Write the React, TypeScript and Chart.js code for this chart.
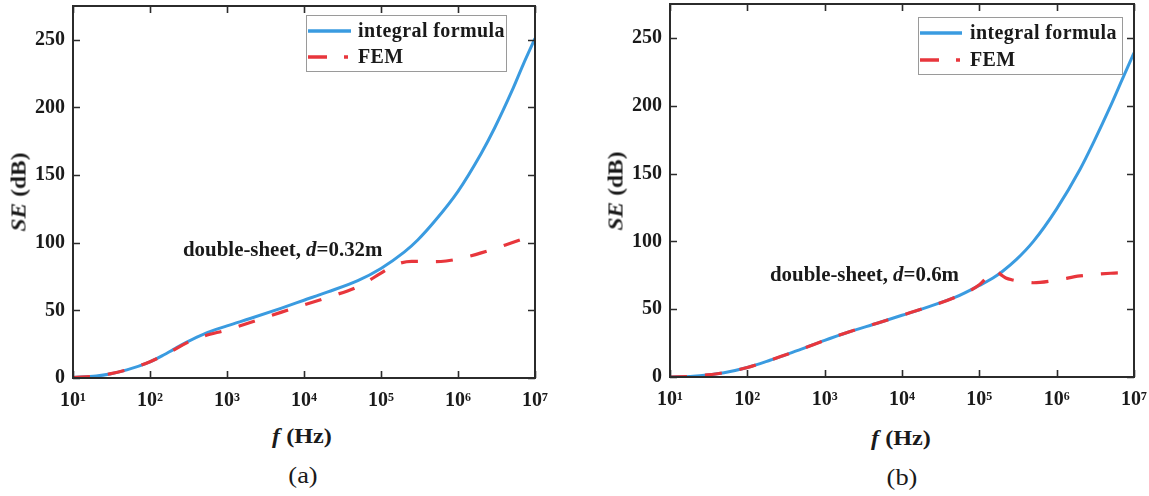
import React, { useEffect, useRef } from 'react';
import { Chart, registerables } from 'chart.js';

Chart.register(...registerables);

// ---------- data ----------
const freqA = [10, 20, 30, 50, 100, 150, 200, 300, 500, 1e3, 2e3, 5e3, 1e4, 2e4, 5e4, 1e5, 2e5, 3e5, 5e5, 1e6, 2e6, 3e6, 5e6, 7e6, 1e7];
const integralA = [0.3, 1.5, 3, 6, 12, 17, 21, 26.5, 32.5, 38.5, 44, 51.5, 57.5, 63.5, 72, 81, 93, 102, 116, 138, 166, 185, 212, 231.5, 251];
const freqFemA = [10, 20, 30, 50, 100, 150, 200, 300, 500, 1e3, 2e3, 5e3, 1e4, 2e4, 5e4, 1e5, 1.4e5, 1.8e5, 2.5e5, 3.5e5, 5e5, 7e5, 1e6, 2e6, 5e6, 1e7];
const femA = [0.3, 1.5, 3, 6, 12, 16.8, 20.5, 26, 31, 35.5, 41, 48.5, 54, 59.5, 67.5, 77.5, 82.5, 85, 86.2, 86.2, 86, 86.5, 88, 92.5, 100, 106];

const freqB = [10, 20, 30, 50, 100, 200, 300, 500, 1e3, 2e3, 5e3, 1e4, 2e4, 5e4, 1e5, 1.5e5, 2e5, 3e5, 5e5, 1e6, 2e6, 3e6, 5e6, 7e6, 1e7];
const integralB = [0, 0.6, 1.5, 3.2, 7, 12.5, 16, 20.5, 27, 33, 40, 45.5, 51, 59, 67.5, 73, 78, 86.5, 100, 124, 153, 173, 200, 219, 239];
const freqFemB = [10, 20, 30, 50, 100, 200, 300, 500, 1e3, 2e3, 5e3, 1e4, 2e4, 5e4, 1e5, 1.2e5, 1.35e5, 1.5e5, 1.7e5, 1.9e5, 2.2e5, 2.7e5, 3.5e5, 5e5, 1e6, 2e6, 5e6, 1e7];
const femB = [0, 0.6, 1.5, 3.2, 7, 12.5, 16, 20.5, 27, 33, 40, 45.5, 51, 59, 68, 72.5, 76, 77.8, 77.5, 75.5, 73, 71.5, 70.5, 69.5, 71.5, 74.5, 76.5, 77];

const seriesNames = ['integral formula', 'FEM'];
const xTickLabels = ['10¹', '10²', '10³', '10⁴', '10⁵', '10⁶', '10⁷'];
const xMin = 10;
const xMax = 1e7;
const yMin = 0;
const yMax = 275;
const yStep = 25;
const yLabelStep = 50;

const FONT = '"Liberation Serif", "Times New Roman", serif';
const BLUE = '#3a9be0';
const RED = '#e8363c';
const AXIS = '#2b2b2b';

const isPow10 = (v: number) => {
  const e = Math.log10(v);
  return Math.abs(e - Math.round(e)) < 1e-6;
};

// ---------- plugins ----------
const frameTicks = {
  id: 'frameTicks',
  afterDatasetsDraw(chart: any) {
    const { ctx, chartArea: a, scales } = chart;
    const xs = scales.x;
    const ys = scales.y;
    ctx.save();
    ctx.strokeStyle = AXIS;
    ctx.lineWidth = 1.6;
    ctx.beginPath();
    xs.ticks.forEach((t: any) => {
      const px = Math.round(xs.getPixelForValue(t.value)) + 0.5;
      const len = isPow10(t.value) ? 7 : 4;
      ctx.moveTo(px, a.bottom);
      ctx.lineTo(px, a.bottom - len);
      ctx.moveTo(px, a.top);
      ctx.lineTo(px, a.top + len);
    });
    ys.ticks.forEach((t: any) => {
      const py = Math.round(ys.getPixelForValue(t.value)) + 0.5;
      const len = t.value % yLabelStep === 0 ? 7 : 4;
      ctx.moveTo(a.left, py);
      ctx.lineTo(a.left + len, py);
      ctx.moveTo(a.right, py);
      ctx.lineTo(a.right - len, py);
    });
    ctx.stroke();
    ctx.lineWidth = 2;
    ctx.strokeRect(a.left, a.top, a.right - a.left, a.bottom - a.top);
    ctx.restore();
  },
};

const boxLegend = {
  id: 'boxLegend',
  afterDraw(chart: any, _args: any, opts: any) {
    const { ctx } = chart;
    const { x, y, w, h, rows, lineX0, lineX1, textX } = opts;
    ctx.save();
    ctx.fillStyle = '#fff';
    ctx.fillRect(x, y, w, h);
    ctx.strokeStyle = '#9a9a9a';
    ctx.lineWidth = 1;
    ctx.strokeRect(x + 0.5, y + 0.5, w, h);
    chart.data.datasets.forEach((ds: any, i: number) => {
      const ly = rows[i];
      ctx.strokeStyle = ds.borderColor;
      ctx.lineWidth = 3.5;
      ctx.setLineDash(ds.legendDash || []);
      ctx.beginPath();
      ctx.moveTo(lineX0, ly);
      ctx.lineTo(lineX1, ly);
      ctx.stroke();
      ctx.setLineDash([]);
      ctx.fillStyle = '#1a1a1a';
      ctx.font = `bold 20px ${FONT}`;
      (ctx as any).letterSpacing = '0.4px';
      ctx.textBaseline = 'middle';
      ctx.textAlign = 'left';
      ctx.fillText(ds.label, textX, ly + 1);
    });
    ctx.restore();
  },
};

function makeConfig(
  fI: number[], vI: number[], fF: number[], vF: number[],
  geom: { yW: number; xH: number; padTop: number; padRight: number },
  legend: any
) {
  return {
    type: 'line',
    data: {
      datasets: [
        {
          label: seriesNames[0],
          data: fI.map((f, i) => ({ x: f, y: vI[i] })),
          borderColor: BLUE,
          borderWidth: 3,
          pointRadius: 0,
          cubicInterpolationMode: 'monotone',
          fill: false,
          order: 2,
        },
        {
          label: seriesNames[1],
          data: fF.map((f, i) => ({ x: f, y: vF[i] })),
          borderColor: RED,
          borderWidth: 3.2,
          borderDash: [17, 18],
          legendDash: [19, 17, 4, 200],
          pointRadius: 0,
          cubicInterpolationMode: 'monotone',
          fill: false,
          order: 1,
        },
      ],
    },
    options: {
      responsive: false,
      animation: false,
      devicePixelRatio: 1,
      layout: { padding: { top: geom.padTop, right: geom.padRight, left: 0, bottom: 0 } },
      plugins: {
        legend: { display: false },
        tooltip: { enabled: false },
        boxLegend: legend,
      },
      scales: {
        x: {
          type: 'logarithmic',
          min: xMin,
          max: xMax,
          grid: { display: false, drawTicks: false },
          border: { display: false },
          ticks: {
            autoSkip: false,
            maxRotation: 0,
            minRotation: 0,
            padding: 11,
            color: '#1a1a1a',
            font: { family: FONT, size: 20, weight: 'bold' },
            callback: (v: number) => (isPow10(v) ? xTickLabels[Math.round(Math.log10(v)) - 1] : null),
          },
          afterFit: (s: any) => {
            s.height = geom.xH;
            s.paddingLeft = 0; s.paddingRight = 0; s.paddingTop = 0; s.paddingBottom = 0;
          },
        },
        y: {
          type: 'linear',
          min: yMin,
          max: yMax,
          grid: { display: false, drawTicks: false },
          border: { display: false },
          ticks: {
            stepSize: yStep,
            autoSkip: false,
            padding: 8,
            color: '#1a1a1a',
            font: { family: FONT, size: 20, weight: 'bold' },
            callback: (v: number) => (v % yLabelStep === 0 ? String(v) : null),
          },
          afterFit: (s: any) => {
            s.width = geom.yW;
            s.paddingLeft = 0; s.paddingRight = 0; s.paddingTop = 0; s.paddingBottom = 0;
          },
        },
      },
    },
    plugins: [frameTicks, boxLegend],
  };
}

function Panel(props: { cfg: any; left: number; width: number; height: number }) {
  const ref = useRef<HTMLCanvasElement>(null);
  useEffect(() => {
    const chart = new Chart(ref.current as HTMLCanvasElement, props.cfg);
    return () => chart.destroy();
  }, []);
  return (
    <canvas
      ref={ref}
      width={props.width}
      height={props.height}
      style={{ position: 'absolute', left: props.left, top: 0, width: props.width, height: props.height }}
    />
  );
}

const txt: React.CSSProperties = {
  position: 'absolute',
  fontFamily: FONT,
  color: '#1a1a1a',
  whiteSpace: 'nowrap',
  lineHeight: 1,
};

export default function App() {
  const cfgA = makeConfig(freqA, integralA, freqFemA, femA,
    { yW: 73, xH: 42, padTop: 6, padRight: 25 },
    { x: 306, y: 15, w: 200, h: 56, rows: [31, 57], lineX0: 308, lineX1: 351, textX: 358 });
  const cfgB = makeConfig(freqB, integralB, freqFemB, femB,
    { yW: 80, xH: 43, padTop: 4, padRight: 15 },
    { x: 328, y: 17, w: 204, h: 57, rows: [33, 60], lineX0: 330, lineX1: 372, textX: 380 });

  const yTitle: React.CSSProperties = { ...txt, fontSize: 21, fontWeight: 'bold', transform: 'translate(-50%,-50%) rotate(-90deg) scaleX(1.12)' };
  const xTitle: React.CSSProperties = { ...txt, fontSize: 22, fontWeight: 'bold', transform: 'translate(-50%,-50%) scaleX(1.1)' };
  const panelLbl: React.CSSProperties = { ...txt, fontSize: 24, transform: 'translate(-50%,-50%) scaleX(1.1)' };

  return (
    <div style={{ position: 'fixed', left: 0, top: 0, width: 1149, height: 496, background: '#fff', overflow: 'hidden' }}>
      <Panel cfg={cfgA} left={0} width={560} height={420} />
      <Panel cfg={cfgB} left={590} width={559} height={420} />

      {/* y titles */}
      <div style={{ ...yTitle, left: 19, top: 192 }}>
        <i>SE</i> (dB)
      </div>
      <div style={{ ...yTitle, left: 616, top: 191 }}>
        <i>SE</i> (dB)
      </div>

      {/* x titles */}
      <div style={{ ...xTitle, left: 302, top: 436 }}>
        <i>f</i> (Hz)
      </div>
      <div style={{ ...xTitle, left: 901, top: 438 }}>
        <i>f</i> (Hz)
      </div>

      {/* panel labels */}
      <div style={{ ...panelLbl, left: 303, top: 475 }}>(a)</div>
      <div style={{ ...panelLbl, left: 902, top: 477 }}>(b)</div>

      {/* annotations */}
      <div style={{ ...txt, left: 183, top: 249, fontSize: 20, fontWeight: 'bold', transformOrigin: 'left center', transform: 'translateY(-50%) scaleX(1.045)' }}>
        double-sheet, <i>d</i>=0.32m
      </div>
      <div style={{ ...txt, left: 770, top: 274, fontSize: 20, fontWeight: 'bold', transformOrigin: 'left center', transform: 'translateY(-50%) scaleX(1.045)' }}>
        double-sheet, <i>d</i>=0.6m
      </div>
    </div>
  );
}
